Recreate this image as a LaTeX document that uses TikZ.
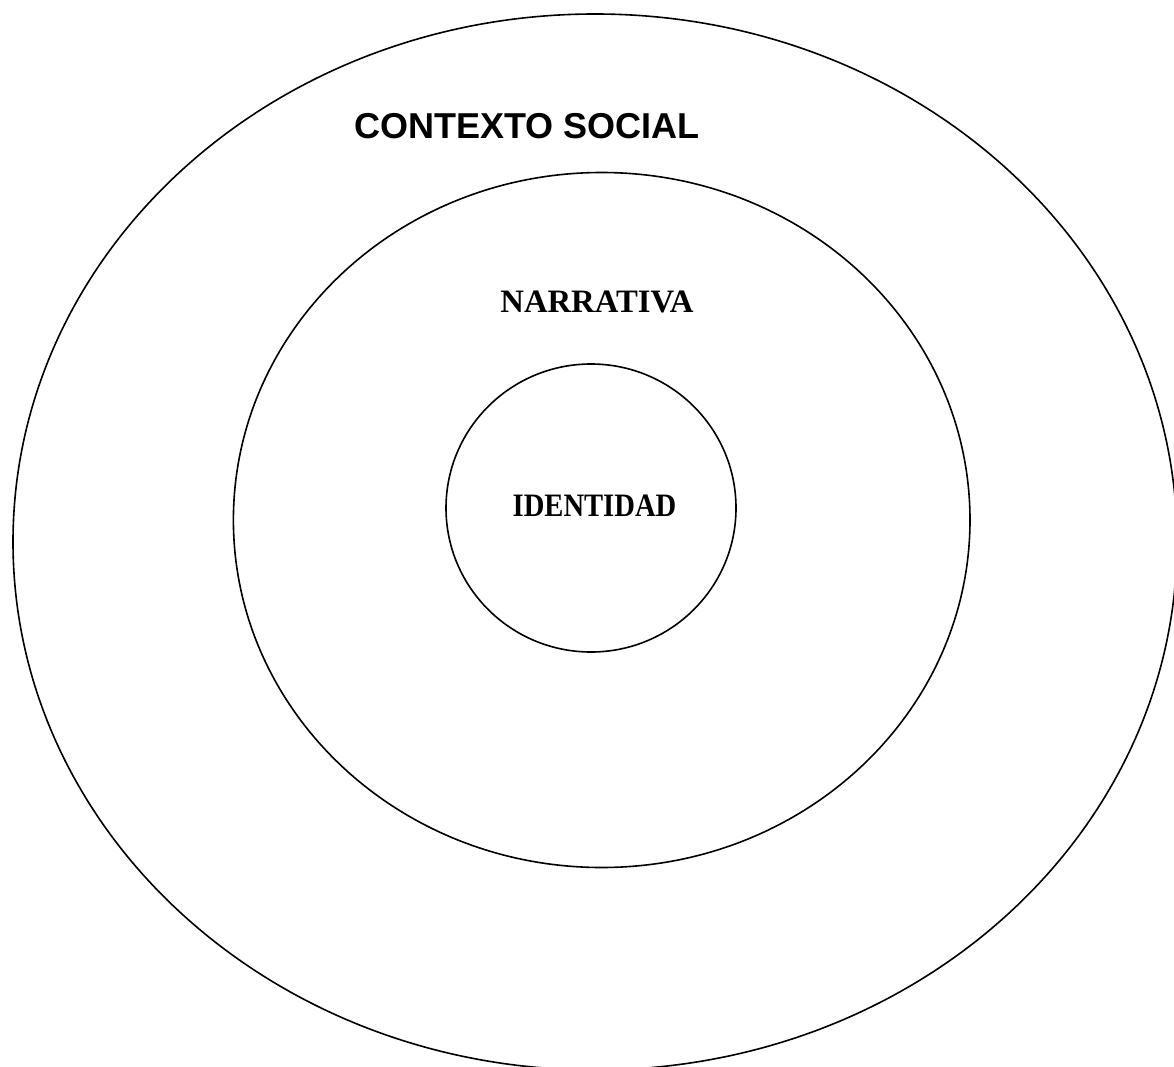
\documentclass[tikz,border=0pt]{standalone}
\usepackage{fontspec}
\setmainfont{Liberation Serif}
\newfontfamily\arialfont{Liberation Sans}
\usetikzlibrary{shapes.geometric}
\tikzset{
  ring/.style={draw=black, line width=1.6pt, ellipse, inner sep=0pt, outer sep=0pt},
  lbl/.style={inner sep=0pt, anchor=center, text=black}
}
\begin{document}
\begin{tikzpicture}[x=1pt, y=-1pt]
\useasboundingbox (0,0) rectangle (1174,1067);
\clip (0,0) rectangle (1174,1067);
\fill[white] (0,0) rectangle (1174,1067);
\node[ring, minimum width=1164pt, minimum height=1056pt] (outer) at (595,542) {};
\node[ring, minimum width=736.6pt, minimum height=695pt] (middle) at (601.7,520) {};
\node[ring, minimum width=290pt, minimum height=288pt] (inner) at (591,508) {};
\node[lbl] (contexto) at (527,126.5) {\arialfont\bfseries\fontsize{36}{40}\selectfont CONTEXTO SOCIAL};
\node[lbl] (narrativa) at (597,301.5) {\bfseries\fontsize{32.7}{36}\selectfont NARRATIVA};
\node[lbl] (identidad) at (594.5,505.5) {\scalebox{0.875}[1]{\bfseries\fontsize{32.7}{36}\selectfont IDENTIDAD}};
\end{tikzpicture}
\end{document}
